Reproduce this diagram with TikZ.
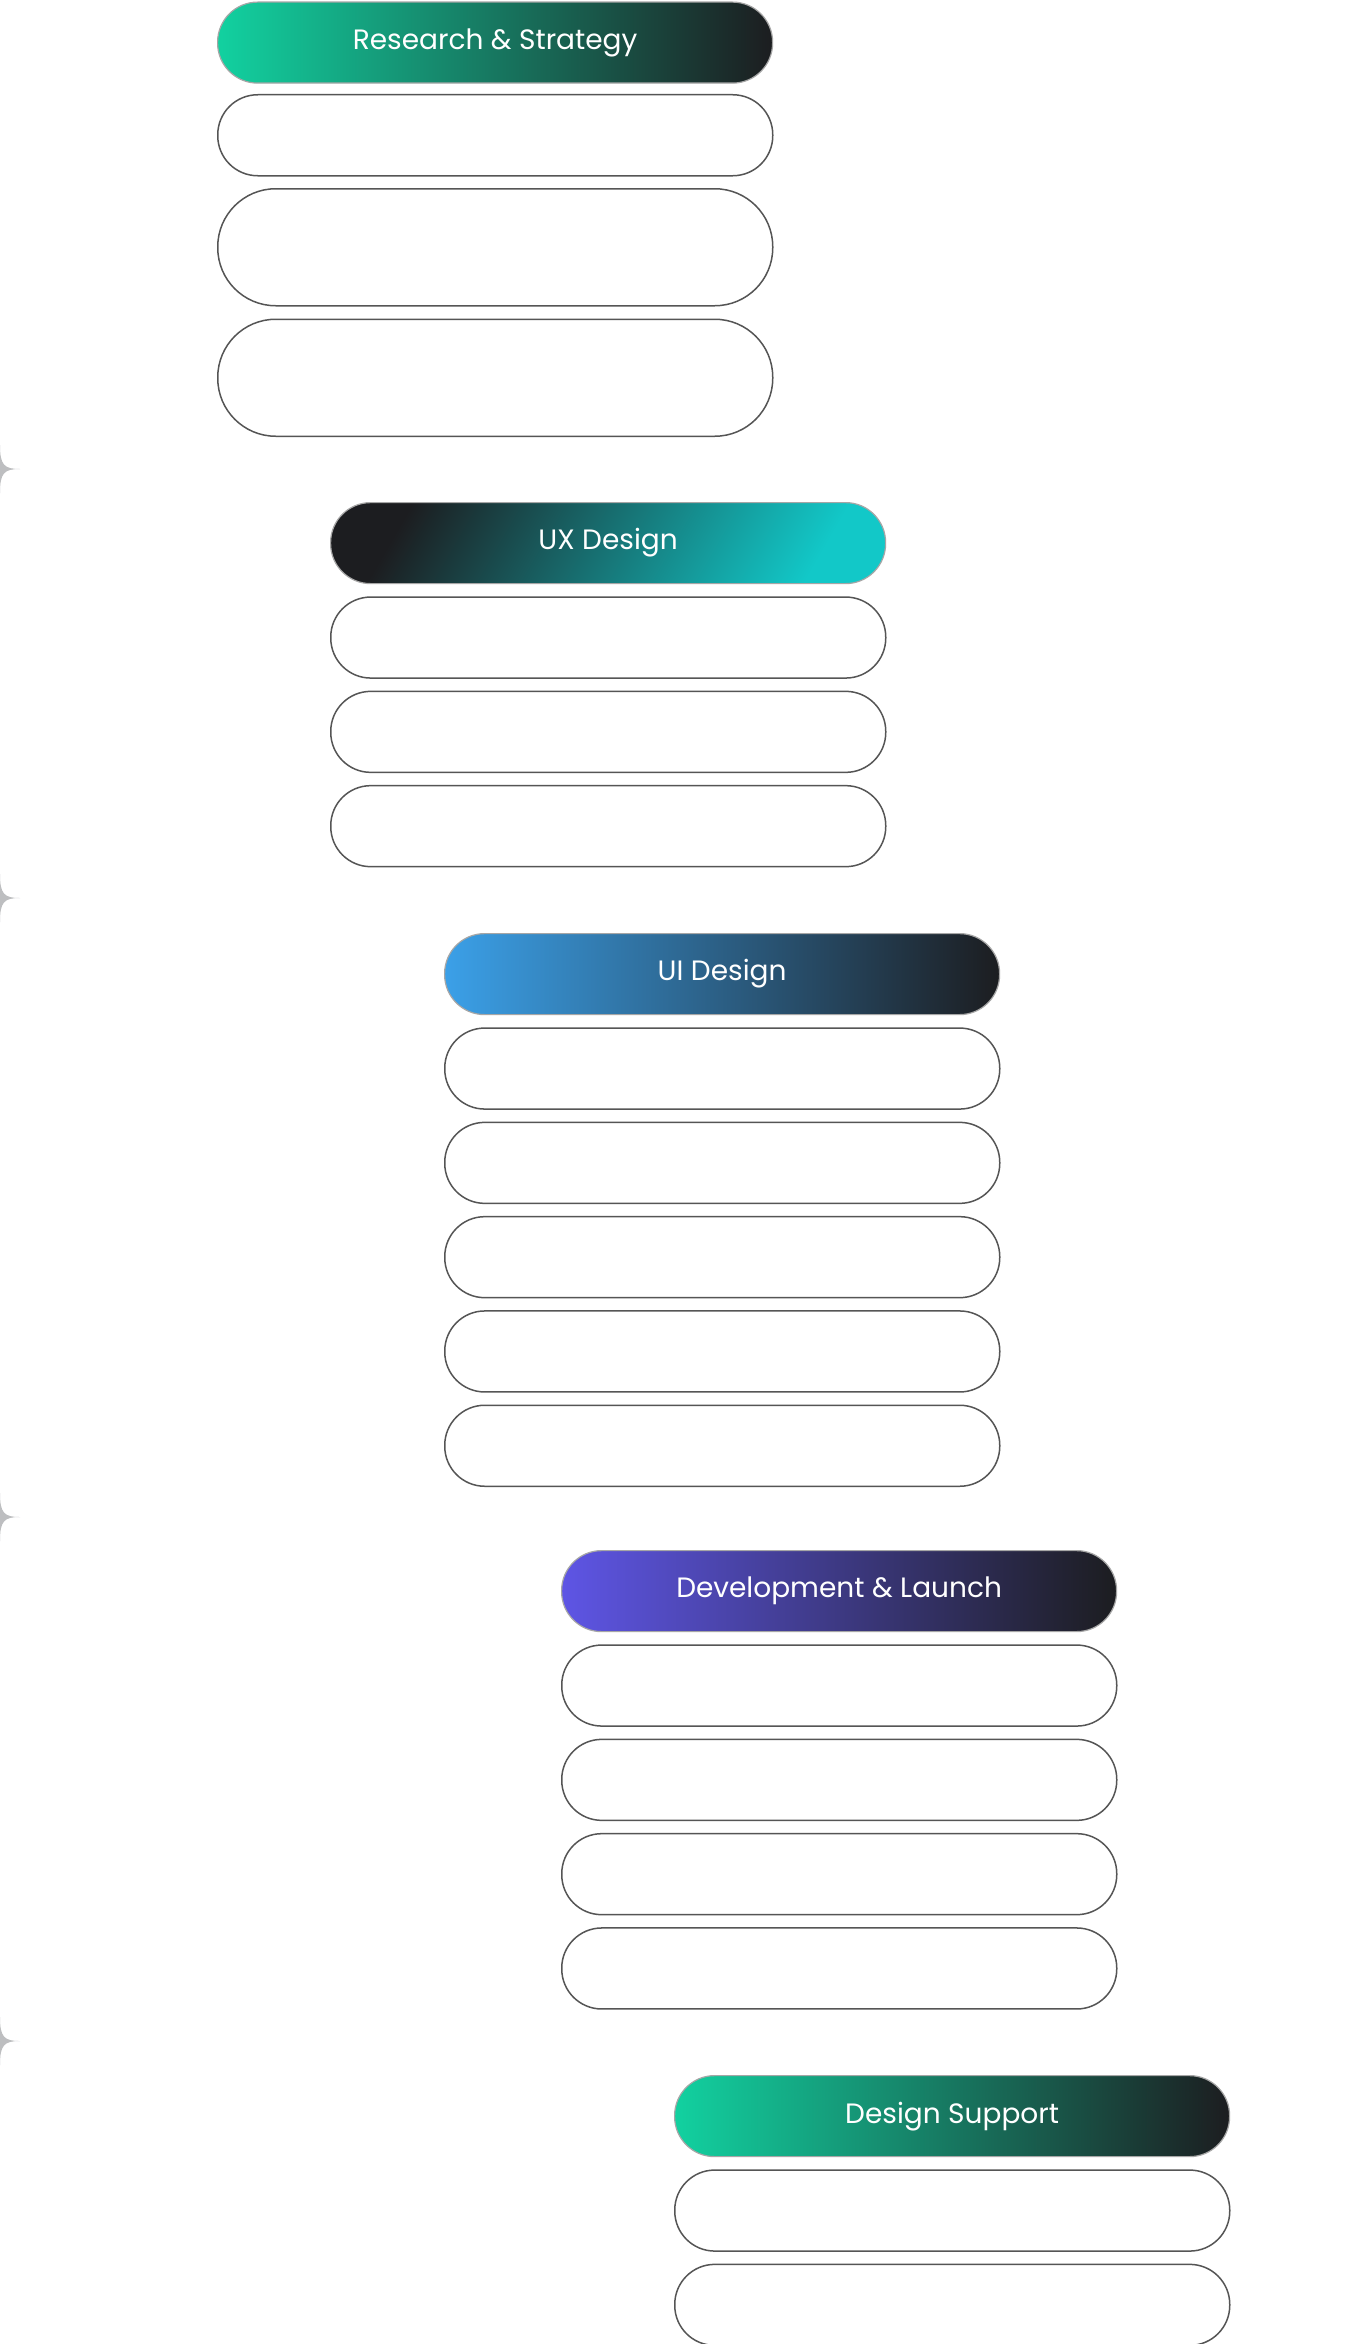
\documentclass[tikz,border=0pt]{standalone}
\usepackage{fontspec}
\setmainfont{Poppins}
\usetikzlibrary{positioning}

\definecolor{boxline}{HTML}{555555}
\definecolor{darkend}{HTML}{1C1D20}
\definecolor{mint}{HTML}{12D1A0}
\definecolor{tealmid}{HTML}{0A8E9A}
\definecolor{uxblue}{HTML}{1A8AD4}
\definecolor{uxcyan}{HTML}{12C8C8}
\definecolor{uiblue}{HTML}{3BA0E8}
\definecolor{uiviolet}{HTML}{4B4FC8}
\definecolor{devblue}{HTML}{5E55E5}
\definecolor{devpurple}{HTML}{8A3FCF}
\definecolor{stargray}{HTML}{BDBEC0}

\tikzset{
    stage/.style={draw=gray!70, line width=0.6pt, rounded corners=20pt, anchor=north west,
        minimum width=277.5pt, minimum height=40.5pt, text=white, font=\fontsize{14}{16}\selectfont},
    task/.style={draw=boxline, line width=0.75pt, fill=white, rounded corners=20pt, anchor=north west,
        minimum width=277.5pt, minimum height=40.5pt},
    tall/.style={task, minimum height=58.5pt, rounded corners=29pt},
    spark/.style={fill=stargray, draw=none}
}

\begin{document}
\begin{tikzpicture}[x=0.5pt, y=-0.5pt]
    \fill[white] (0,0) rectangle (1344,2344);
    \useasboundingbox (0,0) rectangle (1344,2344);

    % separators on the left edge
    \foreach \sy in {469, 898, 1517, 2041}
        \fill[spark] (0,\sy-24) .. controls (0,\sy-4) and (4,\sy) .. (20,\sy)
            .. controls (4,\sy) and (0,\sy+4) .. (0,\sy+24)
            .. controls (0,\sy+4) and (-4,\sy) .. (-20,\sy)
            .. controls (-4,\sy) and (0,\sy-4) .. (0,\sy-24);

    % Research & Strategy
    \begin{scope}
        \node[stage, left color=mint, middle color=tealmid, right color=darkend] (research) at (217, 1.5) {Research \& Strategy};
        \node[task] (research1) at (217, 94) {};
        \node[tall] (research2) at (217, 188) {};
        \node[tall] (research3) at (217, 318.5) {};
    \end{scope}

    % UX Design
    \begin{scope}
        \node[stage, left color=darkend, middle color=uxblue, right color=uxcyan, shading angle=60] (ux) at (330, 502) {UX Design};
        \foreach \i in {1,...,3}
            \node[task] (ux\i) at (330, 502+\i*94.3) {};
    \end{scope}

    % UI Design
    \begin{scope}
        \node[stage, left color=uiblue, middle color=uiviolet, right color=darkend] (ui) at (444, 933) {UI Design};
        \foreach \i in {1,...,5}
            \node[task] (ui\i) at (444, 933+\i*94.3) {};
    \end{scope}

    % Development & Launch
    \begin{scope}
        \node[stage, left color=devblue, middle color=devpurple!70!darkend, right color=darkend] (dev) at (561, 1550) {Development \& Launch};
        \foreach \i in {1,...,4}
            \node[task] (dev\i) at (561, 1550+\i*94.3) {};
    \end{scope}

    % Design Support
    \begin{scope}
        \node[stage, left color=mint, middle color=tealmid, right color=darkend] (support) at (674, 2075) {Design Support};
        \foreach \i in {1,2}
            \node[task] (support\i) at (674, 2075+\i*94.3) {};
    \end{scope}
\end{tikzpicture}
\end{document}
